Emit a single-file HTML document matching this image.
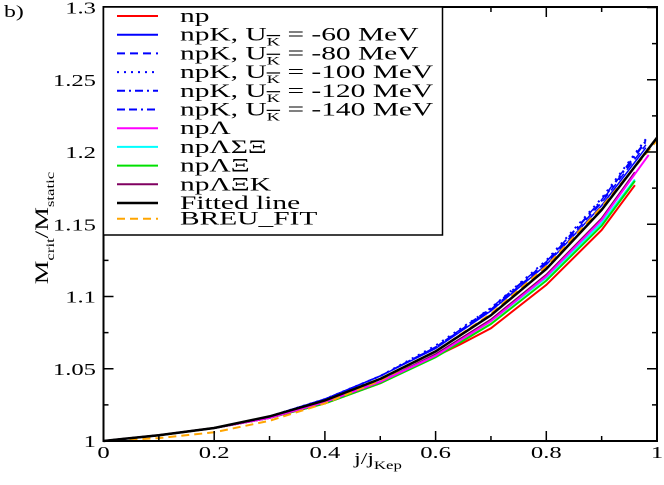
<!DOCTYPE html>
<html><head><meta charset="utf-8"><style>
body{margin:0;background:#fff}
svg{display:block;font-family:"Liberation Serif",serif}
</style></head><body>
<svg id="chart" width="664" height="485" viewBox="0 0 664 485" xmlns="http://www.w3.org/2000/svg">
<g id="marks"></g>
<g id="axes"></g>
<g id="legend"></g>
<text transform="translate(4,17) scale(1.4,1)" font-size="17">b)</text>
<text transform="translate(48,228) rotate(-90) scale(1.4,1)" text-anchor="middle" font-size="19">M<tspan font-size="12" dy="6">crit</tspan><tspan dy="-6">/M</tspan><tspan font-size="12" dy="6">static</tspan></text>
<text transform="translate(378,464) scale(1.4,1)" text-anchor="middle" font-size="17">j/j<tspan font-size="12" dy="5">Kep</tspan></text>
</svg>
<script>
const xTicks=[0,0.2,0.4,0.6,0.8,1];
const xTickLabels=["0","0.2","0.4","0.6","0.8","1"];
const yTicks=[1,1.05,1.1,1.15,1.2,1.25,1.3];
const yTickLabels=["1","1.05","1.1","1.15","1.2","1.25","1.3"];
const xs=[0,0.1,0.2,0.3,0.4,0.5,0.6,0.7,0.8,0.9,1.0];
const fitted=[1,1.004,1.009,1.017,1.028,1.043,1.062,1.087,1.119,1.160,1.210];
const breu=[1,1.002,1.006,1.014,1.026,1.042,1.062,1.088,1.121,1.162,1.208];
const npX=[0,0.1,0.2,0.3,0.4,0.5,0.645,0.7,0.8,0.9,0.96];
const np=[1,1.004,1.009,1.016,1.026,1.04,1.067,1.078,1.108,1.146,1.177];
const kX=[0,0.1,0.2,0.3,0.4,0.5,0.6,0.7,0.8,0.9,0.98];
const k60=[1,1.004,1.009,1.017,1.029,1.045,1.064,1.09,1.122,1.163,1.203];
const k80=[1,1.004,1.009,1.017,1.029,1.045,1.065,1.091,1.123,1.165,1.205];
const k100=[1,1.004,1.009,1.017,1.029,1.045,1.066,1.092,1.125,1.168,1.209];
const k120=[1,1.004,1.009,1.017,1.029,1.045,1.065,1.091,1.124,1.166,1.207];
const k140=[1,1.004,1.009,1.017,1.029,1.045,1.065,1.092,1.124,1.167,1.208];
const lamX=[0,0.1,0.2,0.3,0.4,0.5,0.6,0.7,0.8,0.9,0.985];
const lam=[1,1.004,1.009,1.016,1.027,1.041,1.059,1.083,1.114,1.153,1.198];
const lsxX=[0,0.1,0.2,0.3,0.4,0.5,0.6,0.7,0.8,0.9,0.96];
const lsx=[1,1.004,1.009,1.016,1.027,1.041,1.059,1.083,1.113,1.151,1.181];
const lx=[1,1.004,1.009,1.016,1.026,1.040,1.058,1.081,1.111,1.149,1.180];
const lxk=[1,1.004,1.009,1.016,1.027,1.041,1.060,1.084,1.115,1.154,1.186];
const X=v=>103.5+v*553.5, Y=v=>441-(v-1)*1445;
const NS="http://www.w3.org/2000/svg";
function mk(t,a,p){const e=document.createElementNS(NS,t);for(const k in a)e.setAttribute(k,a[k]);p.appendChild(e);return e;}
const marks=document.getElementById('marks'),axes=document.getElementById('axes'),leg=document.getElementById('legend');
const series=[
 [npX,np,'#ff0000','',2,'series-np'],
 [lsxX,lsx,'#00ffff','',2,'series-nplambdasigmaxi'],
 [lsxX,lx,'#00e000','',2,'series-nplambdaxi'],
 [lsxX,lxk,'#800060','',2,'series-nplambdaxik'],
 [lamX,lam,'#ff00ff','',2,'series-nplambda'],
 [kX,k60,'#0000ff','',1.5,'series-npk-60'],
 [kX,k80,'#0000ff','8,5',1.5,'series-npk-80'],
 [kX,k100,'#0000ff','2,5',2,'series-npk-100'],
 [kX,k120,'#0000ff','8,4,2,4',1.5,'series-npk-120'],
 [kX,k140,'#0000ff','8,4,8,4,2,4',1.5,'series-npk-140'],
 [xs,breu,'#ffa500','8,5',2,'series-breu-fit'],
 [xs,fitted,'#000000','',2.5,'series-fitted-line']];
for(const s of series){
 const d=s[0].map((x,i)=>(i?'L':'M')+X(x).toFixed(1)+','+Y(s[1][i]).toFixed(1)).join('');
 const p=mk('path',{d:d,fill:'none',stroke:s[2],'stroke-width':s[4],'stroke-dasharray':s[3]},marks);
 
 
}
const fr=mk('rect',{x:103.5,y:7,width:553.5,height:434,fill:'none',stroke:'#000','stroke-width':2},axes);


for(let i=0;i<=10;i++){const v=i/10,L=i%2?5:10,x=X(v);
 mk('line',{x1:x,y1:441,x2:x,y2:441-L,stroke:'#000','stroke-width':1.5},axes);
 mk('line',{x1:x,y1:7,x2:x,y2:7+L,stroke:'#000','stroke-width':1.5},axes);}
for(let i=0;i<=12;i++){const v=1+i*0.025,L=i%2?5:10,y=Y(v);
 mk('line',{x1:103.5,y1:y,x2:103.5+L,y2:y,stroke:'#000','stroke-width':1.5},axes);
 mk('line',{x1:657,y1:y,x2:657-L,y2:y,stroke:'#000','stroke-width':1.5},axes);}
xTicks.forEach((v,i)=>{const t=mk('text',{transform:`translate(${X(v)},458) scale(1.45,1)`,'text-anchor':'middle','font-size':17},axes);t.textContent=xTickLabels[i];
 
 });
yTicks.forEach((v,i)=>{const t=mk('text',{transform:`translate(96,${Y(v)+6}) scale(1.45,1)`,'text-anchor':'end','font-size':17},axes);t.textContent=yTickLabels[i];
 
 });
mk('rect',{x:103.5,y:7,width:339,height:228,fill:'#fff',stroke:'#000','stroke-width':1.5},leg);
const items=[['#ff0000','','np'],['#0000ff','','npK, U|= -60 MeV'],['#0000ff','8,5','npK, U|= -80 MeV'],['#0000ff','2,5','npK, U|= -100 MeV'],['#0000ff','8,4,2,4','npK, U|= -120 MeV'],['#0000ff','8,4,8,4,2,4','npK, U|= -140 MeV'],['#ff00ff','','npΛ'],['#00ffff','','npΛΣΞ'],['#00e000','','npΛΞ'],['#800060','','npΛΞK'],['#000000','','Fitted line'],['#ffa500','8,5','BREU_FIT']];
items.forEach((it,i)=>{const y=16+i*18.7-(i==11?3:0);
 const g=mk('g',{},leg);
 
 
 mk('line',{x1:117,y1:y,x2:158,y2:y,stroke:it[0],'stroke-width':it[0]=='#000000'?2.5:2,'stroke-dasharray':it[1]},g);
 const t=mk('text',{transform:`translate(180,${y+6}) scale(1.55,1)`,'font-size':19},g);
 if(it[2].includes('|')){const parts=it[2].split('|');
  t.appendChild(document.createTextNode(parts[0]));
  const s=mk('tspan',{'font-size':12,dy:5,'text-decoration':'overline'},t);s.textContent='K';
  const r=mk('tspan',{dy:-5},t);r.textContent=' '+parts[1];
 } else t.textContent=it[2];
});
</script>
</body></html>
